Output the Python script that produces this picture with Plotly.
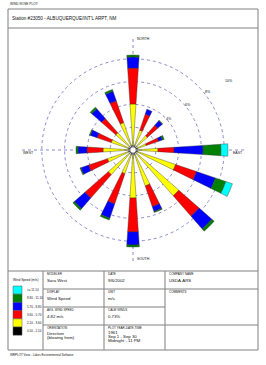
import math
import plotly.graph_objects as go

W, H = 266, 365

directions = ["N", "NNE", "NE", "ENE", "E", "ESE", "SE", "SSE",
              "S", "SSW", "SW", "WSW", "W", "WNW", "NW", "NNW"]
angles = [0, 22.5, 45, 67.5, 90, 112.5, 135, 157.5,
          180, 202.5, 225, 247.5, 270, 292.5, 315, 337.5]

# frequency (%) per speed class, per direction
s_050_210 = [0.44, 0.44, 0.44, 0.44, 0.44, 0.44, 0.44, 0.44,
             0.44, 0.44, 0.44, 0.44, 0.44, 0.44, 0.44, 0.44]
s_210_360 = [3.60, 1.40, 1.23, 0.79, 1.75, 3.51, 4.91, 2.89,
             3.77, 1.75, 2.45, 1.93, 2.19, 1.58, 1.58, 2.10]
s_360_570 = [3.15, 1.49, 1.22, 1.14, 1.41, 1.93, 2.37, 1.93,
             2.98, 2.81, 2.72, 1.75, 1.41, 1.31, 1.66, 2.02]
s_570_880 = [0.97, 0.44, 0.53, 0.35, 2.54, 1.75, 1.49, 0.44,
             1.14, 1.32, 1.23, 0.70, 0.78, 0.62, 1.14, 0.88]
s_880_1110 = [0.17, 0.00, 0.05, 0.17, 1.58, 0.97, 0.26, 0.09,
              0.18, 0.17, 0.18, 0.09, 0.18, 0.09, 0.18, 0.17]
s_ge_1110 = [0.00, 0.00, 0.00, 0.00, 0.61, 0.61, 0.00, 0.00,
             0.00, 0.00, 0.00, 0.00, 0.00, 0.00, 0.00, 0.00]

classes = [
    ("0.50 - 2.10", s_050_210, "#000000"),
    ("2.10 - 3.60", s_210_360, "#FFFF00"),
    ("3.60 - 5.70", s_360_570, "#FF0000"),
    ("5.70 - 8.80", s_570_880, "#0000FF"),
    ("8.80 - 11.10", s_880_1110, "#008000"),
    (">= 11.10", s_ge_1110, "#00FFFF"),
]

ring_vals = [2, 4, 6, 8, 10]
ring_text = ["", "4%", "6%", "8%", "10%"]
R_MAX = 10

FONT = "Liberation Sans, Arial, sans-serif"


def px(x):
    return x / W


def py(y):
    return 1 - y / H


fig = go.Figure()
for name, vals, col in classes:
    fig.add_trace(go.Barpolar(
        r=vals, theta=angles, width=[7.5] * 16, name=name,
        marker=dict(color=col, line=dict(color="#333333", width=0.4)),
        showlegend=False,
    ))

cx, cy, R = 133, 150, 114
fig.update_layout(
    width=W, height=H,
    margin=dict(l=0, r=0, t=0, b=0),
    paper_bgcolor="white",
    plot_bgcolor="white",
    barmode="stack",
    polar=dict(
        domain=dict(x=[px(cx - R), px(cx + R)], y=[py(cy + R), py(cy - R)]),
        bgcolor="white",
        bargap=0,
        radialaxis=dict(
            range=[0, R_MAX], tickvals=ring_vals, showticklabels=False,
            showline=False, ticks="", layer="below traces",
            gridcolor="#8a8ad0", griddash="dot", gridwidth=1,
        ),
        angularaxis=dict(
            rotation=90, direction="clockwise",
            tickvals=[0, 90, 180, 270], showticklabels=False, ticks="",
            showline=False, gridcolor="#8a8ad0", griddash="dot", gridwidth=1,
        ),
    ),
)

shapes = []
LC = "#808080"


def hline(x0, x1, y):
    shapes.append(dict(type="line", xref="paper", yref="paper",
                       x0=px(x0), x1=px(x1), y0=py(y), y1=py(y),
                       line=dict(color=LC, width=1)))


def vline(x, y0, y1):
    shapes.append(dict(type="line", xref="paper", yref="paper",
                       x0=px(x), x1=px(x), y0=py(y0), y1=py(y1),
                       line=dict(color=LC, width=1)))


L, Rr, T, B = 8, 258, 9, 350
hline(L, Rr, T)
hline(L, Rr, B)
vline(L, T, B)
vline(Rr, T, B)
hline(L, Rr, 28)
hline(L, Rr, 271)
vline(43, 271, B)
vline(104, 271, B)
vline(165, 271, B)
hline(43, Rr, 289)
hline(43, 165, 307)
hline(43, Rr, 325)

# center calm circle
shapes.append(dict(type="circle", xref="paper", yref="paper",
                   x0=px(cx - 3), x1=px(cx + 3), y0=py(cy + 3), y1=py(cy - 3),
                   fillcolor="white", line=dict(color="#333333", width=0.4),
                   layer="above"))

# legend boxes
leg_top = 286
box_h = 8.2
for i, (name, vals, col) in enumerate(reversed(classes)):
    y0 = leg_top + i * box_h
    shapes.append(dict(type="rect", xref="paper", yref="paper",
                       x0=px(13), x1=px(22), y0=py(y0), y1=py(y0 + box_h),
                       fillcolor=col, line=dict(color="#555555", width=0.5)))

ann = []


def text(x, y, s, size=4, anchor="left", color="#111111"):
    ann.append(dict(x=px(x), y=py(y), xref="paper", yref="paper", text=s,
                    showarrow=False, xanchor=anchor, yanchor="middle",
                    font=dict(size=size, color=color, family=FONT)))


# ring labels, placed just outside each ring toward the upper right
label_ang = {4: 40.5, 6: 39.5, 8: 37.5, 10: 35.5}
for v, t in zip(ring_vals, ring_text):
    if not t:
        continue
    rp = v / R_MAX * R * 1.03 + 1
    a = math.radians(label_ang[v])
    text(cx + rp * math.cos(a), cy - rp * math.sin(a), t, 3.6, anchor="center")

text(8, 4, "WIND ROSE PLOT:", 3.2)
text(10, 18, "Station #23050 - ALBUQUERQUE/INT'L ARPT, NM", 4.6)

text(135, 39, "NORTH", 3.5)
text(231, 153, "EAST", 3.5)
text(135, 259, "SOUTH", 3.5)
text(21, 153, "WEST", 3.5)

text(25.5, 280, "Wind Speed (m/s)", 3.2, anchor="center")
for i, (name, vals, col) in enumerate(reversed(classes)):
    text(24.5, leg_top + i * box_h + box_h / 2, name, 3.0)

small, val = 3.0, 4.3
text(45, 274, "MODELER", small)
text(45, 280.5, "Sara West", val)
text(45, 292, "DISPLAY", small)
text(45, 298.5, "Wind Speed", val)
text(45, 310, "AVG. WIND SPEED", small)
text(45, 316.5, "4.82 m/s", val)
text(45, 327.5, "ORIENTATION", small)
text(45, 333, "Direction", val)
text(45, 337.5, "(blowing from)", val)

text(106, 274, "DATE", small)
text(106, 280.5, "9/6/2002", val)
text(106, 292, "UNIT", small)
text(106, 298.5, "m/s", val)
text(106, 310, "CALM WINDS", small)
text(106, 316.5, "0.73%", val)
text(106, 327.5, "PLOT YEAR-DATE-TIME", small)
text(106, 332.5, "1961", val)
text(106, 336.5, "Sep 1 - Sep 30", val)
text(106, 340.5, "Midnight - 11 PM", val)

text(167, 274, "COMPANY NAME", small)
text(167, 280.5, "USDA-ARS", val)
text(167, 292, "COMMENTS", small)

text(8, 354.5, "WRPLOT View - Lakes Environmental Software", 3.0)

fig.update_layout(shapes=shapes, annotations=ann)
fig.write_html("out.html")
